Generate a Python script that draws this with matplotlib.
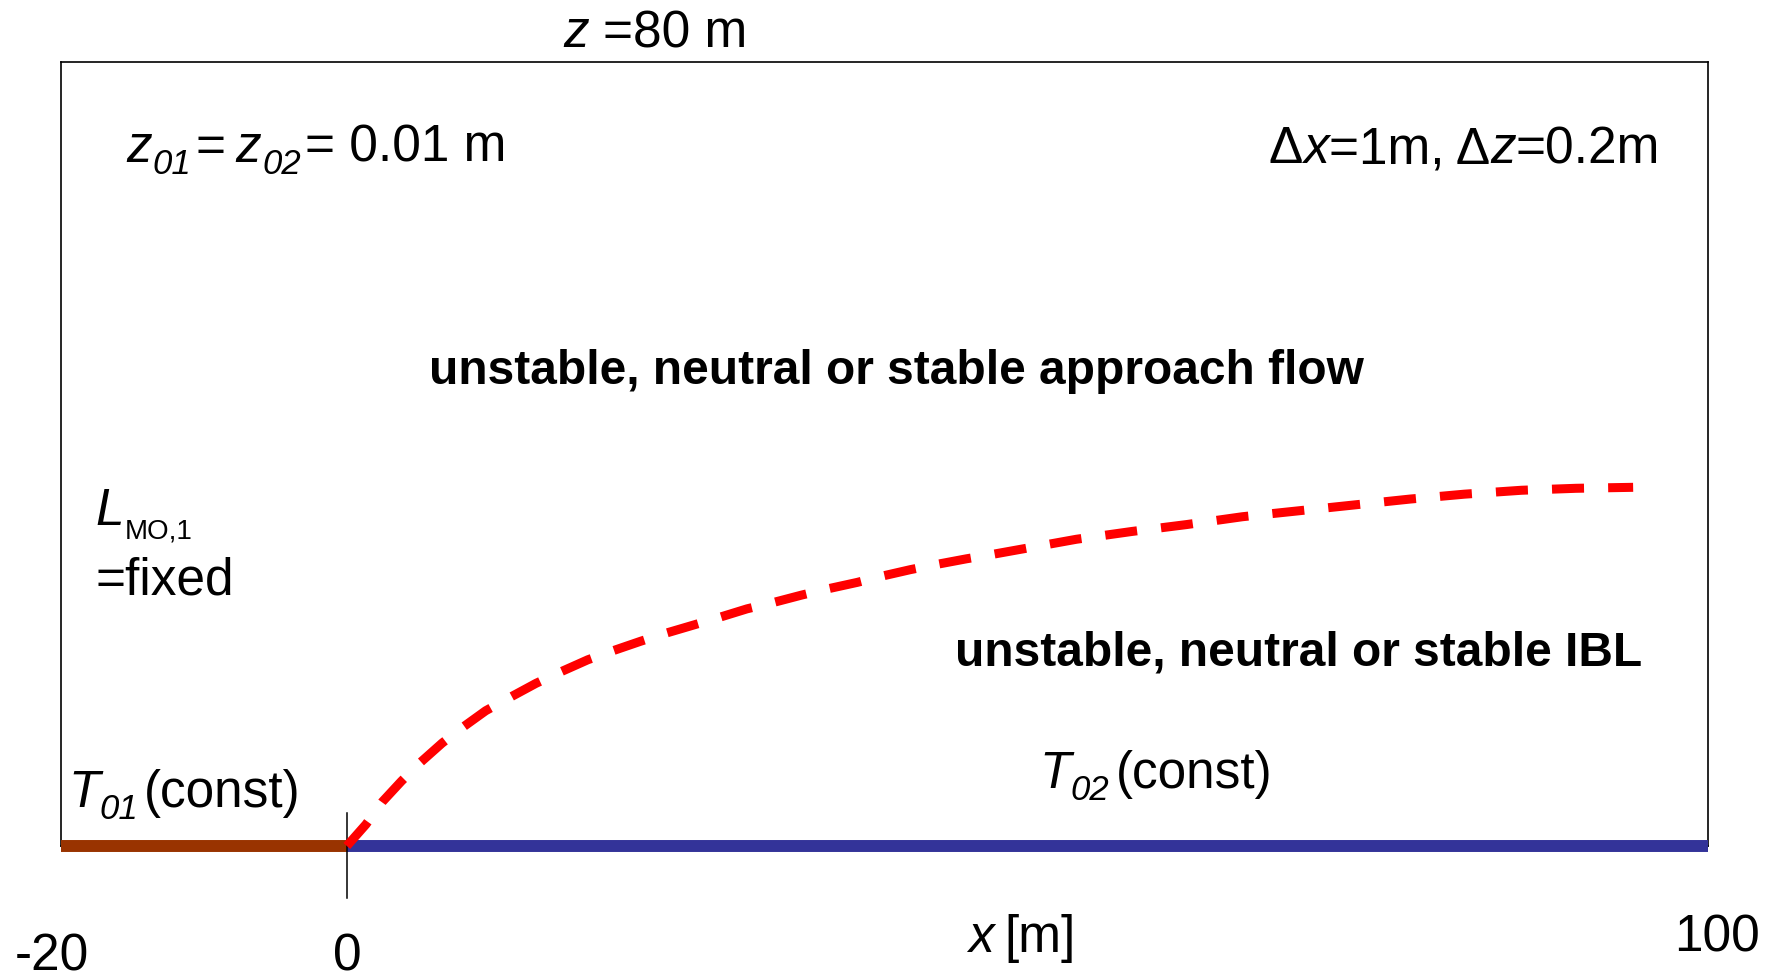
import matplotlib
matplotlib.use("Agg")
import matplotlib.pyplot as plt

W, H = 1771, 979
plt.rcParams['font.family'] = ['Liberation Sans', 'DejaVu Sans']

# surface segments [m]: upstream (T01) and downstream (T02)
upstream_x = [-21, 0]
downstream_x = [0, 100]
surface_z = [0, 0]

# internal boundary layer height along the fetch [m]
ibl_x = [0, 1.4, 2.6, 4.0, 5.3, 7.0, 8.4, 10.2, 11.9, 13.9, 15.6, 17.7, 19.5,
         21.6, 23.4, 25.6, 27.3, 29.4, 31.2, 33.4, 35.2, 37.5, 39.2, 41.4,
         43.2, 45.5, 47.2, 49.6, 53.6, 57.7, 61.7, 65.8, 69.9, 74.0, 78.1,
         82.1, 86.3, 90.3, 94.5]
ibl_z = [0, 2.2, 4.5, 6.6, 8.4, 10.5, 12.0, 13.8, 15.1, 16.6, 17.7, 19.0, 19.9,
         20.9, 21.7, 22.6, 23.3, 24.2, 24.8, 25.6, 26.2, 26.9, 27.5, 28.2,
         28.7, 29.3, 29.7, 30.3, 31.3, 32.1, 32.8, 33.6, 34.2, 34.8, 35.4,
         35.9, 36.3, 36.5, 36.6]

z_top = 80
step_tick = [3.4, -5.3]

fig = plt.figure(figsize=(W / 100, H / 100), dpi=100)
ax = fig.add_axes([61 / W, 1 - 847 / H, (1708 - 61) / W, (847 - 63) / H])
ax.set_xlim(upstream_x[0], downstream_x[1])
ax.set_ylim(0, z_top)
ax.set_xticks([])
ax.set_yticks([])
for sp in ax.spines.values():
    sp.set_linewidth(1.2)
    sp.set_color('black')

ax.plot(upstream_x, surface_z, color='#993300', lw=8.6, solid_capstyle='butt',
        clip_on=False, zorder=3)
ax.plot(downstream_x, surface_z, color='#333399', lw=8.6, solid_capstyle='butt',
        clip_on=False, zorder=3)
ax.plot([0, 0], step_tick, color='black', lw=1.1, clip_on=False, zorder=4)
ax.plot(ibl_x, ibl_z, color='red', lw=6.5, dashes=(3.55, 2.67),
        dash_capstyle='butt', clip_on=False, zorder=5)

renderer = fig.canvas.get_renderer()


def runs(x_px, y_px, parts):
    """Write a line of mixed-style text pieces starting at pixel (x, baseline y)."""
    cur = x_px
    for text, size, style, weight, dy, gap in parts:
        t = fig.text(cur / W, 1 - (y_px + dy) / H, text, fontsize=size,
                     fontstyle=style, fontweight=weight, va='baseline', ha='left')
        bb = t.get_window_extent(renderer)
        cur = bb.x1 + gap


R, I = 'normal', 'italic'
N, B = 'normal', 'bold'
big, sub, bold = 37, 25, 34.5

runs(563, 47, [('z', big, I, N, 0, 14), ('=80 m', big, R, N, 0, 0)])
runs(126, 162, [('z', big, I, N, 0, 1), ('01', sub, I, N, 12, 4),
                ('=', big, R, N, 0, 10), ('z', big, I, N, 0, 1),
                ('02', sub, I, N, 12, 4), ('= 0.01 m', big, R, N, 0, 0)])
runs(1269, 163, [('Δ', big, R, N, 0, 0), ('x', big, I, N, 0, 0),
                 ('=1m, Δ', big, R, N, 0, 0), ('z', big, I, N, 0, 0),
                 ('=0.2m', big, R, N, 0, 0)])
runs(429, 384, [('unstable, neutral or stable approach flow', bold, R, B, 0, 0)])
runs(95, 525, [('L', big, I, N, 0, 1), ('MO,1', 20, R, N, 13, 0)])
runs(95, 595, [('=fixed', big, R, N, 0, 0)])
runs(955, 666, [('unstable, neutral or stable IBL', bold, R, B, 0, 0)])
runs(68, 807, [('T', big, I, N, 0, 0), ('01', sub, I, N, 12, 6),
               ('(const)', big, R, N, 0, 0)])
runs(1039, 788, [('T', big, I, N, 0, 0), ('02', sub, I, N, 12, 7),
                 ('(const)', big, R, N, 0, 0)])
runs(968, 952, [('x', big, I, N, 0, 11), ('[m]', big, R, N, 0, 0)])
runs(1674, 952, [('100', big, R, N, 0, 0)])
runs(15, 971, [('-20', big, R, N, 0, 0)])
fig.text(347 / W, 1 - 971 / H, '0', fontsize=big, ha='center', va='baseline')

fig.savefig('out.png', dpi=100)
